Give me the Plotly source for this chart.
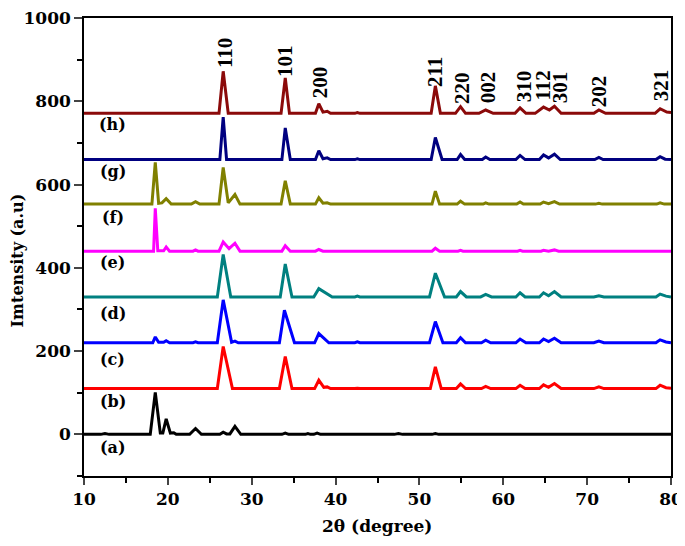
import plotly.graph_objects as go

# ---- data: vertices (2theta, intensity above own baseline) ----
labels = ["(a)", "(b)", "(c)", "(d)", "(e)", "(f)", "(g)", "(h)"]
offsets = [0, 110, 220, 330, 440, 553, 660, 771]
colors = ["#000000", "#FF0000", "#0000FF", "#008080", "#FF00FF", "#808000", "#000080", "#8B0A0A"]
label_x = [13.4, 13.4, 13.4, 13.4, 13.4, 13.4, 13.4, 13.4]
label_y = [-32, 79, 180, 290, 413, 522, 632, 744]

pts_a = [(10, 0), (12.0, 0), (12.5, 2), (13.0, 0), (17.9, 0), (18.5, 101), (19.1, 3), (19.4, 3),
         (19.8, 37), (20.3, 3), (20.7, 4), (21.0, 0), (22.6, 0), (23.3, 14), (24.0, 0), (26.2, 0),
         (26.6, 5), (27.0, 1), (27.4, 1), (28.0, 19), (28.7, 0), (33.6, 0), (34.0, 3), (34.4, 0),
         (36.4, 0), (36.7, 2), (37.0, 0), (37.4, 0), (37.8, 3), (38.2, 0), (47.0, 0), (47.5, 2),
         (48.0, 0), (51.5, 0), (51.9, 2), (52.3, 0), (80, 0)]
pts_b = [(10, 0), (25.9, 0), (26.6, 101), (27.7, 0), (33.3, 0), (34.0, 77), (34.8, 0), (37.5, 0),
         (38.0, 20), (38.6, 3), (39.0, 4), (39.4, 0), (42.3, 0), (42.6, 1), (42.9, 0), (51.3, 0),
         (51.9, 52), (52.6, 0), (54.4, 0), (54.9, 11), (55.5, 0), (57.4, 0), (57.9, 5), (58.5, 0),
         (61.5, 0), (62.0, 8), (62.6, 0), (64.3, 0), (64.8, 9), (65.4, 3), (66.1, 12), (66.9, 0),
         (70.8, 0), (71.4, 4), (72.0, 0), (78.2, 0), (78.7, 8), (79.4, 2), (80, 1)]
pts_c = [(10, 0), (18.2, 0), (18.5, 14), (18.9, 1), (19.5, 1), (19.8, 5), (20.2, 0), (23.0, 0),
         (23.3, 2), (23.6, 0), (25.9, 0), (26.6, 103), (27.6, 1), (28.0, 4), (28.4, 0), (33.3, 0),
         (33.9, 78), (35.1, 0), (37.5, 0), (38.0, 22), (39.2, 0), (42.3, 0), (42.6, 2), (42.9, 0),
         (51.2, 0), (51.9, 51), (52.8, 0), (54.4, 0), (54.9, 12), (55.5, 0), (57.4, 0), (57.9, 6),
         (58.5, 0), (61.5, 0), (62.0, 9), (62.7, 0), (64.3, 0), (64.8, 9), (65.4, 3), (66.1, 11),
         (66.9, 0), (70.8, 0), (71.4, 4), (72.0, 0), (78.2, 0), (78.7, 7), (79.4, 2), (80, 0)]
pts_d = [(10, 0), (25.9, 0), (26.6, 102), (27.5, 0), (33.4, 0), (34.0, 79), (34.8, 0), (37.4, 0),
         (38.0, 20), (39.6, 0), (42.3, 0), (42.6, 2), (42.9, 0), (51.2, 0), (51.9, 57), (53.0, 0),
         (54.4, 0), (54.9, 13), (55.6, 0), (57.3, 0), (57.9, 6), (58.6, 0), (61.5, 0), (62.0, 10),
         (62.6, 0), (64.3, 0), (64.8, 10), (65.4, 3), (66.1, 13), (66.9, 0), (70.8, 0), (71.4, 3),
         (72.0, 0), (78.2, 0), (78.7, 7), (79.4, 2), (80, 0)]
pts_e = [(10, 0), (18.3, 0), (18.5, 103), (18.8, 1), (19.5, 1), (19.8, 10), (20.2, 0), (23.0, 0),
         (23.3, 3), (23.6, 0), (26.1, 0), (26.6, 22), (27.3, 6), (28.0, 19), (28.6, 0), (33.6, 0),
         (34.0, 13), (34.6, 0), (37.6, 0), (38.0, 4), (38.5, 0), (51.5, 0), (51.9, 7), (52.4, 0),
         (54.6, 0), (54.9, 2), (55.2, 0), (61.7, 0), (62.0, 2), (62.3, 0), (64.5, 0), (64.8, 2),
         (65.4, 0), (66.1, 3), (66.6, 0), (71.1, 0), (71.4, 1), (71.7, 0), (80, 0)]
pts_f = [(10, 0), (18.1, 0), (18.5, 100), (18.9, 2), (19.3, 3), (19.8, 13), (20.4, 0), (22.8, 0),
         (23.3, 6), (23.8, 0), (26.1, 0), (26.6, 88), (27.2, 3), (28.0, 23), (28.6, 0), (33.5, 0),
         (34.0, 56), (34.6, 0), (37.6, 0), (38.0, 15), (38.5, 2), (39.0, 3), (39.4, 0), (51.5, 0),
         (51.9, 31), (52.4, 0), (54.5, 0), (54.9, 7), (55.4, 0), (57.6, 0), (57.9, 3), (58.3, 0),
         (61.6, 0), (62.0, 5), (62.4, 0), (64.4, 0), (64.8, 5), (65.4, 1), (66.1, 6), (66.7, 0),
         (71.0, 0), (71.4, 2), (71.8, 0), (78.3, 0), (78.7, 3), (79.2, 0), (80, 0)]
pts_g = [(10, 0), (26.2, 0), (26.6, 102), (27.0, 0), (33.6, 0), (34.0, 76), (34.6, 0), (37.6, 0),
         (38.0, 21), (38.5, 2), (39.0, 4), (39.4, 0), (42.3, 0), (42.6, 2), (42.9, 0), (51.4, 0),
         (51.9, 53), (52.7, 0), (54.5, 0), (54.9, 12), (55.4, 0), (57.5, 0), (57.9, 6), (58.4, 0),
         (61.5, 0), (62.0, 10), (62.6, 0), (64.3, 0), (64.8, 11), (65.4, 4), (66.1, 13), (66.8, 0),
         (70.9, 0), (71.4, 5), (71.9, 0), (78.2, 0), (78.7, 7), (79.3, 1), (80, 0)]
pts_h = [(10, 0), (26.1, 0), (26.6, 101), (27.2, 0), (33.5, 0), (34.0, 85), (34.5, 0), (37.6, 0),
         (38.0, 23), (38.5, 3), (39.0, 5), (39.4, 0), (42.3, 0), (42.6, 2), (42.9, 0), (51.4, 0),
         (51.9, 66), (52.5, 0), (54.3, 0), (54.9, 16), (55.5, 0), (57.1, 0), (57.9, 8), (58.8, 0),
         (61.4, 0), (62.0, 13), (62.7, 0), (63.8, 0), (64.8, 15), (65.5, 8), (66.1, 17), (66.9, 0),
         (70.8, 0), (71.4, 8), (72.2, 0), (78.1, 0), (78.7, 11), (79.5, 3), (80, 2)]
series = [pts_a, pts_b, pts_c, pts_d, pts_e, pts_f, pts_g, pts_h]

hkl = ["110", "101", "200", "211", "220", "002", "310", "112", "301", "202", "321"]
hkl_x = [26.9, 34.05, 38.1, 51.85, 55.0, 58.2, 62.4, 64.7, 66.7, 71.4, 78.9]
hkl_y = [915, 896, 845, 870, 833, 834, 837, 837, 835, 824, 838]

x_ticks = [10, 20, 30, 40, 50, 60, 70, 80]
y_ticks = [0, 200, 400, 600, 800, 1000]

# ---- figure ----
fig = go.Figure()
for pts, off, col in zip(series, offsets, colors):
    fig.add_trace(go.Scatter(
        x=[p[0] for p in pts], y=[p[1] + off for p in pts],
        mode="lines", line=dict(color=col, width=3), showlegend=False))

font_axis = dict(family="DejaVu Serif", size=17, color="black", weight="bold")
annotations = []
for t, x, y in zip(labels, label_x, label_y):
    annotations.append(dict(x=x, y=y, xref="x", yref="y", text=t, showarrow=False,
                            xanchor="center", yanchor="middle",
                            font=dict(family="DejaVu Serif", size=16, color="black", weight="bold")))
for t, x, y in zip(hkl, hkl_x, hkl_y):
    annotations.append(dict(x=x, y=y, xref="x", yref="y", text=t, showarrow=False,
                            textangle=-90, xanchor="center", yanchor="middle",
                            font=dict(family="Liberation Serif", size=21, color="black", weight="bold")))
annotations.append(dict(x=-0.113, y=0.47, xref="paper", yref="paper", text="Imtensity (a.u)",
                        showarrow=False, textangle=-90, xanchor="center", yanchor="middle",
                        font=dict(family="DejaVu Serif", size=16, color="black", weight="bold")))
annotations.append(dict(x=0.499, y=-0.11, xref="paper", yref="paper", text="2θ (degree)",
                        showarrow=False, xanchor="center", yanchor="middle",
                        font=dict(family="DejaVu Serif", size=17, color="black", weight="bold")))

fig.update_layout(
    width=685, height=546,
    margin=dict(l=76, r=22, t=10, b=78),
    paper_bgcolor="white", plot_bgcolor="white",
    annotations=annotations,
    xaxis=dict(range=[10, 80], tickvals=x_ticks, ticks="outside", ticklen=7, tickwidth=1.5,
               showline=True, linecolor="black", linewidth=1.5, mirror=True, showgrid=False,
               zeroline=False, tickfont=font_axis, automargin=False, ticklabeloverflow="allow",
               minor=dict(dtick=5, tick0=10, ticks="outside", ticklen=5, tickwidth=1.5, tickcolor="black")),
    yaxis=dict(range=[-100, 1000], tickvals=y_ticks, ticks="outside", ticklen=8, tickwidth=1.5,
               showline=True, linecolor="black", linewidth=1.5, mirror=True, showgrid=False,
               zeroline=False, tickfont=font_axis, automargin=False, ticklabeloverflow="allow",
               minor=dict(dtick=100, tick0=-100, ticks="outside", ticklen=5, tickwidth=1.5, tickcolor="black")),
)

fig.write_html("out.html")
